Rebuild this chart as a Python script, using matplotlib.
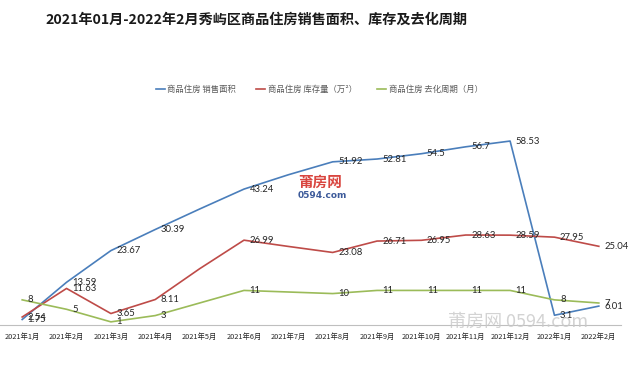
import matplotlib
matplotlib.use("Agg")
import matplotlib.pyplot as plt

plt.rcParams['font.family'] = ['Noto Sans CJK SC', 'DejaVu Sans']

months = ["2021年1月", "2021年2月", "2021年3月", "2021年4月", "2021年5月", "2021年6月",
          "2021年7月", "2021年8月", "2021年9月", "2021年10月", "2021年11月", "2021年12月",
          "2022年1月", "2022年2月"]
sales_area = [1.75, 13.59, 23.67, 30.39, 36.9, 43.24, 47.8, 51.92, 52.81, 54.5, 56.7, 58.53, 3.1, 6.01]
inventory = [2.54, 11.63, 3.65, 8.11, 17.9, 26.99, 25.0, 23.08, 26.71, 26.95, 28.63, 28.59, 27.95, 25.04]
cycle = [8, 5, 1, 3, 7, 11, 10.5, 10, 11, 11, 11, 11, 8, 7]
# labels shown in the picture (None = hidden by watermark)
sales_labels = ["1.75", "13.59", "23.67", "30.39", None, "43.24", None, "51.92", "52.81", "54.5", "56.7", "58.53", "3.1", "6.01"]
inv_labels = ["2.54", "11.63", "3.65", "8.11", None, "26.99", None, "23.08", "26.71", "26.95", "28.63", "28.59", "27.95", "25.04"]
cycle_labels = ["8", "5", "1", "3", None, "11", None, "10", "11", "11", "11", "11", "8", "7"]

series_names = ["商品住房 销售面积", "商品住房 库存量（万²）", "商品住房 去化周期（月）"]
colors = ["#4A7EBB", "#BE4B48", "#9BBB59"]

fig = plt.figure(figsize=(6.4, 3.73), dpi=100)
ax = fig.add_axes([0.0, 48 / 373, 621 / 640, 220 / 373])
x = list(range(len(months)))

for vals, labs, col, name in zip([sales_area, inventory, cycle],
                                 [sales_labels, inv_labels, cycle_labels],
                                 colors, series_names):
    ax.plot(x, vals, color=col, lw=1.2, label=name)
    for xi, v, lab in zip(x, vals, labs):
        if lab is None:
            continue
        ax.annotate(lab, (xi, v), xytext=(4, 0), textcoords='offset points',
                    ha='left', va='center', fontsize=6.8, color='#262626',
                    family=['Lato', 'DejaVu Sans'])

ax.set_xlim(-0.5, 13.5)
ax.set_ylim(0, 70)
ax.set_xticks(x)
ax.set_xticklabels(months, fontsize=5.3, color='#262626')
ax.tick_params(axis='x', length=0, pad=6)
ax.set_yticks([])
for s in ['top', 'right', 'left']:
    ax.spines[s].set_visible(False)
ax.spines['bottom'].set_color('#BFBFBF')
ax.spines['bottom'].set_linewidth(0.8)
ax.patch.set_alpha(0)

fig.text(256 / 640, 1 - 20 / 373, "2021年01月-2022年2月秀屿区商品住房销售面积、库存及去化周期",
         ha='center', va='center', fontsize=10.2, fontweight='bold', color='#1a1a1a')

leg = fig.legend(loc='center', bbox_to_anchor=(319 / 640, 1 - 89 / 373), ncol=3,
                 frameon=False, fontsize=6.0, handlelength=1.1, handletextpad=0.3,
                 columnspacing=2.4)
for t in leg.get_texts():
    t.set_color('#595959')

# watermarks
fig.text(298 / 640, 1 - 182 / 373, "莆房网", color='#D9453F', fontsize=10.5,
         fontweight='bold', ha='left', va='center')
fig.text(298 / 640, 1 - 195 / 373, "0594.com", color='#3C5A9A', fontsize=6.5,
         fontweight='bold', ha='left', va='center', family=['DejaVu Sans'])
fig.text(448 / 640, 1 - 322 / 373, "莆房网 0594.com", color='#C8C8C8', fontsize=13,
         ha='left', va='center', alpha=0.8)

fig.savefig("out.png", dpi=100, facecolor='white')
